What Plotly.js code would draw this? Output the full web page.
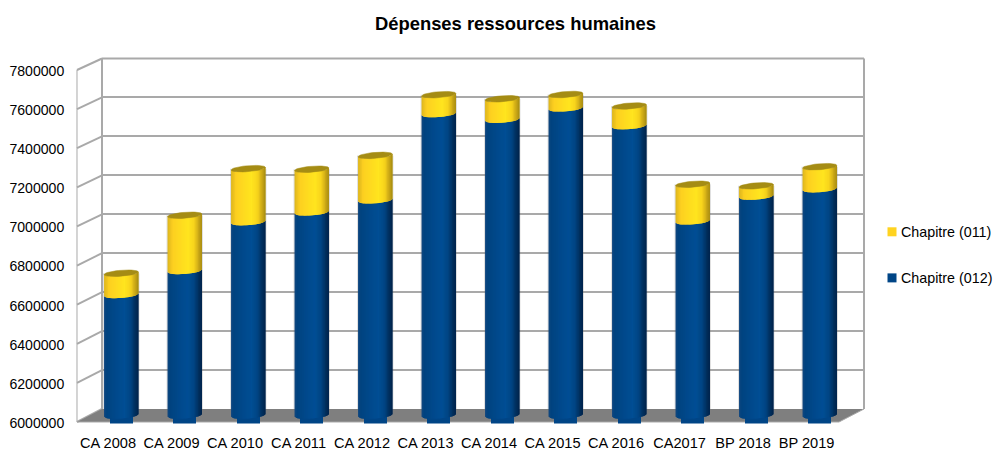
<!DOCTYPE html>
<html>
<head>
<meta charset="utf-8">
<script src="https://cdn.plot.ly/plotly-3.0.1.min.js"></script>
<style>html,body{margin:0;padding:0;background:#fff}#chart{width:994px;height:450px}</style>
</head>
<body>
<div id="chart"></div>
<script>
// Dépenses ressources humaines, budget chapters by year
const categories = ['CA 2008','CA 2009','CA 2010','CA 2011','CA 2012','CA 2013','CA 2014','CA 2015','CA 2016','CA2017','BP 2018','BP 2019'];
const chapitre012 = [6618000,6741000,6991000,7041000,7103000,7545000,7516000,7574000,7483000,6995000,7122000,7160000];
const chapitre011 = [111000,285000,274000,221000,230000,99000,107000,71000,103000,190000,55000,115000];
const yTicks = [6000000,6200000,6400000,6600000,6800000,7000000,7200000,7400000,7600000,7800000];
const yRange = [6000000,7800000];
const xRange = [-0.5,11.5];

// Three parallel planes give the box its depth: back wall, bar plane, front edge.
const W = 994, H = 450;
const planes = {
  back:  {x0:102,  x1:864,   yTop:58.5,  yBot:409},
  mid:   {x0:89.5, x1:851.5, yTop:64.25, yBot:415.5},
  front: {x0:77,   x1:839,   yTop:70,    yBot:422}
};
const LABEL_DROP = 1, LABEL_LEFT = 0.7;
const domX = (p,d=0) => [(p.x0+d)/W, (p.x1+d)/W];
const domY = (p,d=0) => [1-(p.yBot+d)/H, 1-(p.yTop+d)/H];
const px = x => (x/W).toFixed(5);
const py = y => (1-y/H).toFixed(5);
const frontY = v => planes.front.yBot-(v-yRange[0])/(yRange[1]-yRange[0])*(planes.front.yBot-planes.front.yTop);
const backY = v => planes.back.yBot-(v-yRange[0])/(yRange[1]-yRange[0])*(planes.back.yBot-planes.back.yTop);

// Cylinder geometry, in pixels of the bar plane converted to data units
const m = planes.mid;
const pxPerCat = (m.x1-m.x0)/(xRange[1]-xRange[0]);
const valPerPx = (yRange[1]-yRange[0])/(m.yBot-m.yTop);
const RADIUS = 17.2/pxPerCat, TILT = 1.3*valPerPx, SAG = 3*valPerPx;
// The bar plane's axis runs a little below the floor so the rounded cylinder feet stay visible
const FOOT_PX = 8;
const midRange = [yRange[0]-FOOT_PX*valPerPx, yRange[1]];
const rim = (i,u,v,side) => ({x:i+RADIUS*u, y:v+TILT*u+side*SAG*Math.sqrt(Math.max(0,1-u*u))});

const blueStops = [[-1,'#13477f'],[-0.85,'#00437f'],[-0.3,'#00498c'],[0.2,'#004e94'],[0.55,'#004482'],[0.8,'#002f5e'],[1,'#00234a']];
const yellowStops = [[-1,'#dcb41e'],[-0.7,'#fdd020'],[0.2,'#ffe51f'],[0.55,'#f7d31c'],[0.8,'#cba816'],[1,'#a68c12']];
const capColor = '#a58c14';

const hex = c => [1,3,5].map(k => parseInt(c.substr(k,2),16));
function shade(stops,u){
  for (let k=1;k<stops.length;k++){
    if (u<=stops[k][0]){
      const t=(u-stops[k-1][0])/(stops[k][0]-stops[k-1][0]);
      const a=hex(stops[k-1][1]), b=hex(stops[k][1]);
      return 'rgb('+a.map((c,j)=>Math.round(c+(b[j]-c)*t)).join(',')+')';
    }
  }
  return stops[stops.length-1][1];
}

const axes = {xaxis:'x2',yaxis:'y2',cliponaxis:false,hoverinfo:'skip',showlegend:false};
const BANDS = 26;

// One filled trace per shade; each strip reaches over the next one so that no seams show.
function bandTraces(stops,lower,upper){
  const out=[];
  for (let b=0;b<BANDS;b++){
    const step=2/BANDS, u0=-1+b*step, u1=u0+step, u2=Math.min(1,u0+2*step), c=shade(stops,u0+step/2);
    const xs=[], ys=[];
    categories.forEach((_,i)=>{
      const p=[rim(i,u0,lower[i],-1),rim(i,u1,lower[i],-1),rim(i,u2,lower[i],-1),
               rim(i,u2,upper[i],-1),rim(i,u1,upper[i],-1),rim(i,u0,upper[i],-1),rim(i,u0,lower[i],-1)];
      p.forEach(q=>{xs.push(q.x);ys.push(q.y);});
      xs.push(null);ys.push(null);
    });
    out.push(Object.assign({type:'scatter',mode:'lines',x:xs,y:ys,fill:'toself',fillcolor:c,line:{width:0}},axes));
  }
  return out;
}

const totals = chapitre012.map((v,i)=>v+chapitre011[i]);
const floors = chapitre012.map(()=>yRange[0]);
const indices = categories.map((_,i)=>i);

// Soft grey edge around each cylinder, stopping where the floor begins
const haloX=[], haloY=[];
const haloBase = yRange[0]+6.5*valPerPx;
indices.forEach(i=>{
  const r=RADIUS+1/pxPerCat;
  [[i-r,haloBase],[i+r,haloBase],[i+r,totals[i]],[i-r,totals[i]],[i-r,haloBase]].forEach(q=>{haloX.push(q[0]);haloY.push(q[1]);});
  haloX.push(null);haloY.push(null);
});

// Dark elliptical caps
const capX=[], capY=[];
indices.forEach(i=>{
  for(let a=0;a<=40;a++){
    const t=a/40*2*Math.PI, u=Math.cos(t);
    capX.push(i+RADIUS*u);
    capY.push(totals[i]+TILT*u+SAG*Math.sin(t));
  }
  capX.push(null);capY.push(null);
});

const traces = [
  {type:'scatter',mode:'lines',x:[null],y:[null],xaxis:'x',yaxis:'y',showlegend:false,hoverinfo:'skip'},
  {type:'bar',x:indices,y:chapitre012,width:0.36,marker:{color:'#004586'},xaxis:'x2',yaxis:'y2',hoverinfo:'skip',showlegend:false,name:'Chapitre (012)'},
  {type:'bar',x:indices,y:chapitre011,width:0.36,marker:{color:'#ffd320'},xaxis:'x2',yaxis:'y2',hoverinfo:'skip',showlegend:false,name:'Chapitre (011)'},
  Object.assign({type:'scatter',mode:'lines',x:haloX,y:haloY,fill:'toself',fillcolor:'rgba(110,110,110,0.22)',line:{width:0}},axes),
  ...bandTraces(blueStops,floors,chapitre012),
  ...bandTraces(yellowStops,chapitre012,totals),
  Object.assign({type:'scatter',mode:'lines',x:capX,y:capY,fill:'toself',fillcolor:capColor,line:{color:capColor,width:0.5}},axes),
  // legend entries
  {type:'scatter',mode:'markers',x:[null],y:[null],name:'Chapitre (011)',legendgroup:'a',legendrank:1,marker:{symbol:'square',size:9,color:'#ffd320'},xaxis:'x3',yaxis:'y3'},
  {type:'scatter',mode:'markers',x:[null],y:[null],name:'Chapitre (012)',legendgroup:'b',legendrank:2,marker:{symbol:'square',size:9,color:'#004586'},xaxis:'x3',yaxis:'y3'}
];

// Side wall, floor and box outline
const WALL='#a9a9a9';
const shapes=[];
const paperPath=pts=>'M'+pts.map(p=>px(p[0])+','+py(p[1])).join('L');
const lineShape=(pts,w,closed,fill)=>({type:'path',xref:'paper',yref:'paper',layer:'below',
  path:paperPath(pts)+(closed?'Z':''),line:{color:closed?'rgba(0,0,0,0)':WALL,width:w},fillcolor:fill||'rgba(0,0,0,0)'});
yTicks.forEach(v=>shapes.push(lineShape([[planes.front.x0,frontY(v)],[planes.back.x0,backY(v)]],2)));
shapes.push(lineShape([[planes.front.x0,planes.front.yTop],[planes.front.x0,planes.front.yBot]],1));
shapes.push(lineShape([[planes.back.x0,planes.back.yTop],[planes.back.x0,planes.back.yBot]],2));
shapes.push(lineShape([[planes.back.x1,planes.back.yTop],[planes.back.x1,planes.back.yBot]],2));
shapes.push(lineShape([[planes.back.x0,planes.back.yTop],[planes.back.x1,planes.back.yTop]],2));
shapes.push(lineShape([[planes.front.x0,planes.front.yBot],[planes.back.x0,planes.back.yBot],[planes.back.x1,planes.back.yBot],[planes.front.x1,planes.front.yBot]],0,true,'#7f7f7f'));
shapes.push(lineShape([[planes.front.x0,planes.front.yBot],[planes.front.x1,planes.front.yBot],[planes.back.x1,planes.back.yBot]],1));

const FONT='"Liberation Sans", Arial, sans-serif';
const hidden={visible:false,fixedrange:true};
const layout={
  width:W,height:H,autosize:false,
  margin:{l:0,r:0,t:0,b:0,pad:0,autoexpand:false},
  paper_bgcolor:'#fff',plot_bgcolor:'rgba(0,0,0,0)',
  font:{family:FONT,size:14,color:'#000'},
  title:{text:'Dépenses ressources humaines',x:515.5/W,xanchor:'center',xref:'paper',y:1-24/H,yanchor:'middle',yref:'paper',font:{family:FONT,size:18.4,color:'#000',weight:700}},
  barmode:'stack',
  showlegend:true,
  legend:{x:872/W,xanchor:'left',y:1-216/H,yanchor:'top',traceorder:'grouped',tracegroupgap:24.5,itemclick:false,itemdoubleclick:false,bgcolor:'rgba(0,0,0,0)',font:{family:FONT,size:14.3,color:'#000'}},
  shapes:shapes,
  xaxis:{domain:domX(planes.back),range:xRange,anchor:'y',showgrid:false,showticklabels:false,ticks:'',zeroline:false,showline:false},
  yaxis:{domain:domY(planes.back),range:yRange,anchor:'x',tickmode:'array',tickvals:yTicks,showgrid:true,gridcolor:WALL,gridwidth:2,showticklabels:false,ticks:'',zeroline:false,showline:false},
  xaxis2:Object.assign({domain:domX(planes.mid),range:xRange,anchor:'y2'},hidden),
  yaxis2:Object.assign({domain:[1-(m.yBot+FOOT_PX)/H,1-m.yTop/H],range:midRange,anchor:'x2'},hidden),
  xaxis3:{domain:domX(planes.front,-LABEL_LEFT),range:xRange,anchor:'y3',tickmode:'array',tickvals:indices,ticktext:categories,showgrid:false,zeroline:false,showline:false,ticks:'',ticklabelstandoff:9,tickfont:{family:FONT,size:14.6,color:'#000'}},
  yaxis3:{domain:domY(planes.front,LABEL_DROP),range:yRange,anchor:'x3',tickmode:'array',tickvals:yTicks,ticktext:yTicks.map(String),showgrid:false,zeroline:false,showline:false,ticks:'',ticklabelstandoff:11,tickfont:{family:FONT,size:14.1,color:'#000'}}
};

Plotly.newPlot('chart',traces,layout,{displayModeBar:false}).then(gd=>{
  // Tighten the gap between legend swatches and their labels
  gd.querySelectorAll('.legendtext').forEach(t=>t.setAttribute('x',29));
});
</script>
</body>
</html>
